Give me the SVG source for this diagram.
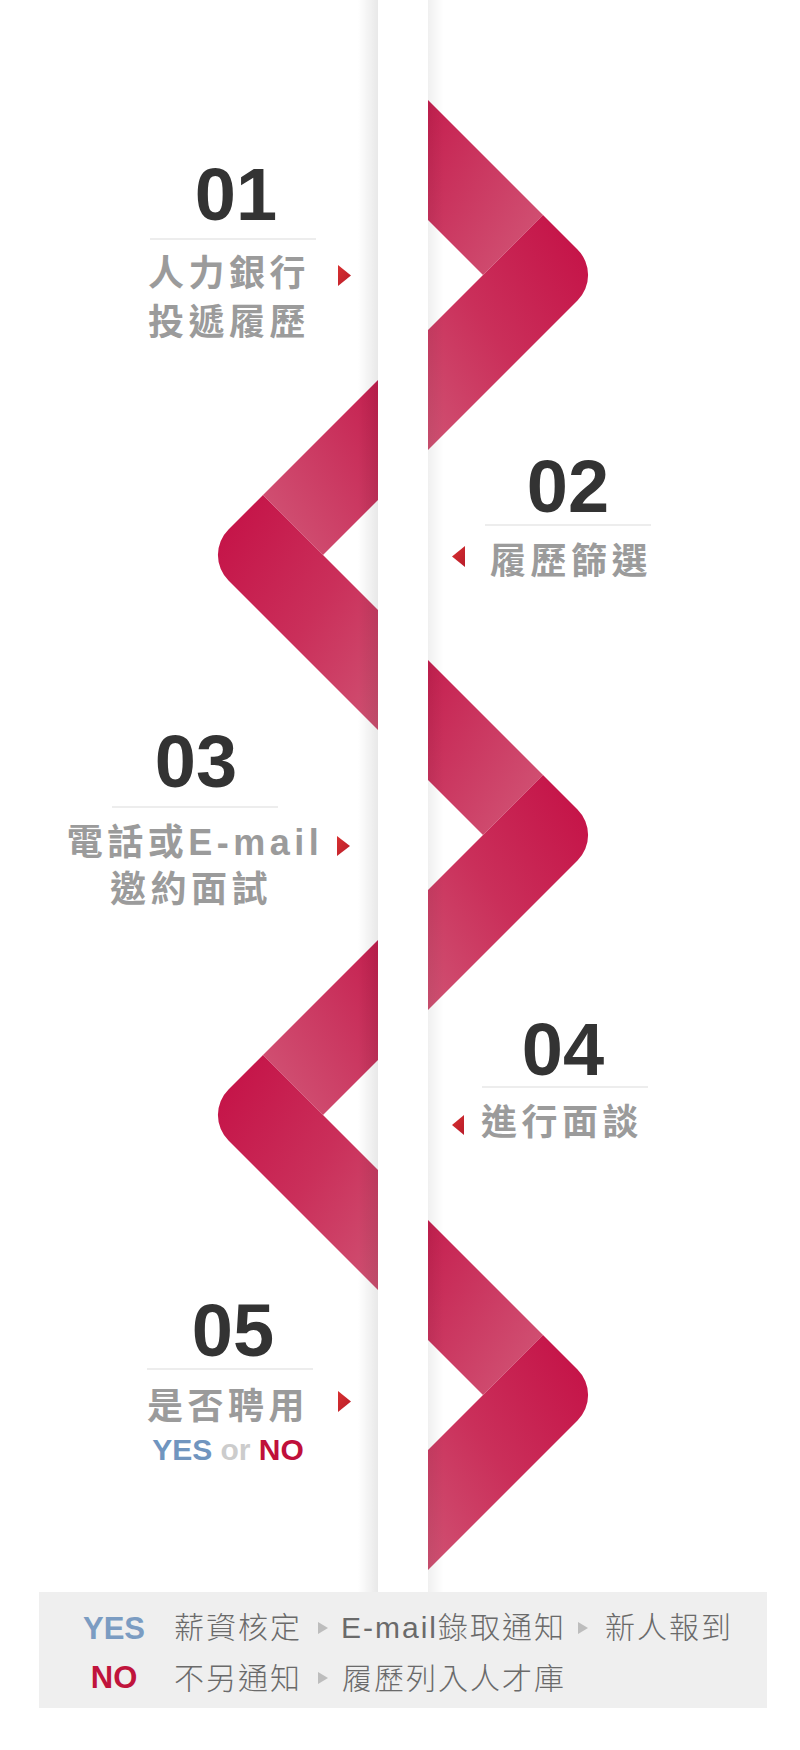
<svg xmlns="http://www.w3.org/2000/svg" width="800" height="1750" viewBox="0 0 800 1750">
  <defs>
    <linearGradient id="underA" x1="0" y1="0" x2="1" y2="1">
      <stop offset="0" stop-color="#c51f4f"/>
      <stop offset="1" stop-color="#d25878"/>
    </linearGradient>
    <linearGradient id="underB" x1="1" y1="0" x2="0" y2="1">
      <stop offset="0" stop-color="#c51f4f"/>
      <stop offset="1" stop-color="#d25878"/>
    </linearGradient>
    <linearGradient id="overA" x1="0" y1="0" x2="1" y2="1">
      <stop offset="0" stop-color="#c40f45"/>
      <stop offset="0.55" stop-color="#ca2f5a"/>
      <stop offset="1" stop-color="#d05273"/>
    </linearGradient>
    <linearGradient id="overB" x1="1" y1="0" x2="0" y2="1">
      <stop offset="0" stop-color="#c40f45"/>
      <stop offset="0.55" stop-color="#ca2f5a"/>
      <stop offset="1" stop-color="#d05273"/>
    </linearGradient>
    <linearGradient id="shadowL" x1="0" y1="0" x2="1" y2="0">
      <stop offset="0" stop-color="#000" stop-opacity="0"/>
      <stop offset="1" stop-color="#000" stop-opacity="0.09"/>
    </linearGradient>
    <linearGradient id="shadowR" x1="0" y1="0" x2="1" y2="0">
      <stop offset="0" stop-color="#000" stop-opacity="0.06"/>
      <stop offset="1" stop-color="#000" stop-opacity="0"/>
    </linearGradient>
    <linearGradient id="redTri" x1="0" y1="0" x2="1" y2="1">
      <stop offset="0" stop-color="#d83030"/>
      <stop offset="1" stop-color="#b81c2a"/>
    </linearGradient>
  </defs>
  <style>
    .num { font-family: "Liberation Sans", "Noto Sans", Arial, sans-serif; font-weight: 700; font-size: 74px; fill: #333333; text-anchor: middle; }
    .lbl { font-family: "Liberation Sans", "Noto Sans CJK TC", sans-serif; font-weight: 700; font-size: 36px; fill: #9b9b9b; letter-spacing: 4.5px; }
    .sep { stroke: #dcdcdc; stroke-width: 1.2; }
    .tri { fill: url(#redTri); }
    .leg { font-family: "Liberation Sans", "Noto Sans CJK TC", sans-serif; font-weight: 300; font-size: 30px; fill: #6a6a6a; letter-spacing: 2px; }
    .legkey { font-family: "Liberation Sans", Arial, sans-serif; font-weight: 700; font-size: 31px; text-anchor: middle; }
    .gtri { fill: #bdbdbd; }
  </style>
  <rect x="0" y="0" width="800" height="1750" fill="#ffffff"/>

  <g id="ribbon">
    <polygon fill="url(#underA)" points="428,100 543,215 483,275 428,220"/>
    <path fill="url(#overB)" d="M543,215 L577.5,249.5 A36,36 0 0 1 577.5,300.5 L428,450 L428,330 L483,275 Z"/>
    <polygon fill="url(#underB)" points="378,380 263,495 323,555 378,500"/>
    <path fill="url(#overA)" d="M263,495 L228.5,529.5 A36,36 0 0 0 228.5,580.5 L378,730 L378,610 L323,555 Z"/>
    <polygon fill="url(#underA)" points="428,660 543,775 483,835 428,780"/>
    <path fill="url(#overB)" d="M543,775 L577.5,809.5 A36,36 0 0 1 577.5,860.5 L428,1010 L428,890 L483,835 Z"/>
    <polygon fill="url(#underB)" points="378,940 263,1055 323,1115 378,1060"/>
    <path fill="url(#overA)" d="M263,1055 L228.5,1089.5 A36,36 0 0 0 228.5,1140.5 L378,1290 L378,1170 L323,1115 Z"/>
    <polygon fill="url(#underA)" points="428,1220 543,1335 483,1395 428,1340"/>
    <path fill="url(#overB)" d="M543,1335 L577.5,1369.5 A36,36 0 0 1 577.5,1420.5 L428,1570 L428,1450 L483,1395 Z"/>
  </g>

  <g id="band">
    <rect x="358" y="0" width="20" height="1592" fill="url(#shadowL)"/>
    <rect x="378" y="0" width="50" height="1592" fill="#ffffff"/>
    <rect x="428" y="0" width="16" height="1592" fill="url(#shadowR)"/>
  </g>

  <g id="step1">
    <text class="num" x="236" y="220">01</text>
    <line class="sep" x1="150" y1="239" x2="316" y2="239"/>
    <text class="lbl" x="148" y="286">人力銀行</text>
    <text class="lbl" x="148" y="335">投遞履歷</text>
    <polygon class="tri" points="338,265 351,275.5 338,286"/>
  </g>

  <g id="step2">
    <text class="num" x="568" y="512">02</text>
    <line class="sep" x1="485" y1="525" x2="651" y2="525"/>
    <text class="lbl" x="490" y="574">履歷篩選</text>
    <polygon class="tri" points="465,546 452,556.5 465,567"/>
  </g>

  <g id="step3">
    <text class="num" x="196" y="787">03</text>
    <line class="sep" x1="112" y1="807" x2="278" y2="807"/>
    <text class="lbl" x="195" y="855" text-anchor="middle">電話或E-mail</text>
    <text class="lbl" x="110" y="902">邀約面試</text>
    <polygon class="tri" points="337,836 350,846 337,856"/>
  </g>

  <g id="step4">
    <text class="num" x="563" y="1075">04</text>
    <line class="sep" x1="482" y1="1087" x2="648" y2="1087"/>
    <text class="lbl" x="481" y="1135">進行面談</text>
    <polygon class="tri" points="464,1115 452,1125 464,1135"/>
  </g>

  <g id="step5">
    <text class="num" x="233" y="1356">05</text>
    <line class="sep" x1="147" y1="1369" x2="313" y2="1369"/>
    <text class="lbl" x="147" y="1419">是否聘用</text>
    <polygon class="tri" points="338,1391 351,1401.5 338,1412"/>
    <text x="228" y="1460" text-anchor="middle" font-family="Liberation Sans, Arial, sans-serif" font-weight="700" font-size="30"><tspan fill="#7095bf">YES</tspan><tspan fill="#cccccc"> or </tspan><tspan fill="#c0103a">NO</tspan></text>
  </g>

  <g id="legend">
    <rect x="39" y="1592" width="728" height="116" fill="#efefef"/>
    <text class="legkey" x="114" y="1639" fill="#7b9cc2">YES</text>
    <text class="leg" x="174" y="1638">薪資核定</text>
    <polygon class="gtri" points="318,1622 328,1628 318,1634"/>
    <text class="leg" x="341" y="1638">E-mail錄取通知</text>
    <polygon class="gtri" points="578,1622 588,1628 578,1634"/>
    <text class="leg" x="605" y="1638">新人報到</text>
    <text class="legkey" x="114" y="1688" fill="#c0143c">NO</text>
    <text class="leg" x="174" y="1689">不另通知</text>
    <polygon class="gtri" points="318,1672 328,1678 318,1684"/>
    <text class="leg" x="342" y="1689">履歷列入人才庫</text>
  </g>
</svg>
